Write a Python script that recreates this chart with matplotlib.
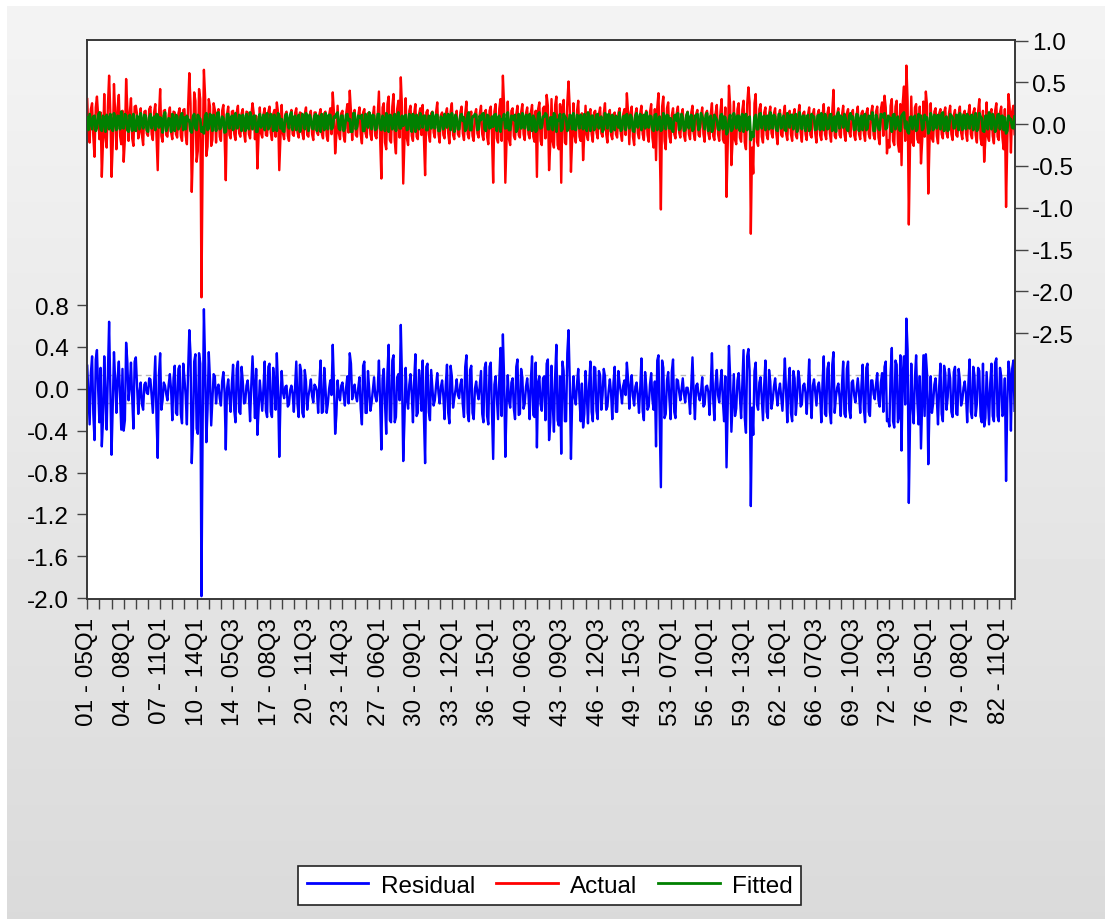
import numpy as np
import matplotlib
matplotlib.use("Agg")
import matplotlib.pyplot as plt
from matplotlib.lines import Line2D
from matplotlib.ticker import MultipleLocator, FixedLocator, FixedFormatter

plt.rcParams['font.family'] = ['Liberation Sans', 'DejaVu Sans']

# panel: 83 cross sections x 46 quarters (2005Q1-2016Q2), read every 5th obs
OBS_STEP = 5
N_OBS = 3818

# values in hundredths
ACTUAL_X100 = [
    30, -12, -22, 18, 25, -15, -39, 20, 33, 10, -18, 14, -63, -20, 36, -16, -28, 22, 58, 15, -63, -25, 48, 12, -30, 20, 35, -14, -24, 16, -45, -18, 54, 19, -20, 13, 31, -17, -26, 21,
    22, 12, -17, -9, 19, -13, -25, 15, 16, -11, -14, 18, 21, -12, -19, 14, 24, -16, -55, 10, 42, -14, -21, 16, 17, -13, -15, 11, 20, -10, -18, 15, 14, -12, -16, 13, 19, -14, -20, 17,
    18, -13, -24, 22, 61, 25, -81, -30, 38, 28, -45, -32, 42, 30, -207, -35, 65, 33, -38, -27, 30, 21, -26, -19, 25, 17, -22, 13, 18, -15, -20, 16, 23, -14, -67, 12, 21, -13, -17, 15,
    16, -12, -19, 14, 22, -11, -15, 13, 18, -10, -21, 15, 14, -12, -17, 11, 25, 13, -18, 10, -53, -14, 20, -11, -16, 12, 19, -13, -14, 15, 21, -10, -19, 12, 17, -15, 26, 14, -55, -16,
    23, -11, -18, 12, 15, -14, -20, 10, 17, -12, -14, 13, 19, -10, -16, 14, 13, -11, -18, 12, 20, -13, -15, 11, 16, -12, -19, 14, 14, -10, -13, 12, 18, -11, -17, 13, 15, -14, -20, 11,
    19, -12, 38, 14, -35, -13, 22, -11, -18, 13, 16, -14, -21, 12, 24, -10, 40, 15, -19, 12, 17, -13, -15, 11, 20, -12, -23, 14, 18, -11, -16, 13, 14, -12, -19, 10, 21, -14, -17, 12,
    39, -18, -65, 20, 25, -22, -30, 24, 33, -19, -22, 21, 36, -20, -35, 18, 28, -16, 56, 20, -71, -22, 31, -17, -25, 16, 22, -14, -20, 13, 24, -15, -18, 12, 19, -13, 23, -16, -61, 14,
    17, -12, -21, 13, 15, -10, -16, 14, 26, -12, -22, 11, 14, -13, -17, 12, 19, -11, -23, 15, 25, -13, -18, 10, 16, -12, -15, 14, 21, -11, -19, 13, 27, -12, -17, 11, 15, -14, -20, 12,
    18, -11, -16, 13, 22, -12, -19, 14, 17, -15, -24, 16, 21, -13, -70, 15, 24, -17, -22, 18, 30, -20, 58, 22, -70, -21, 27, -18, -25, 16, 19, -14, -18, 12, 22, -13, -16, 14, 24, -12,
    -19, 13, 20, -12, -17, 14, 23, -15, -21, 16, -63, 18, 26, -20, -25, 19, 21, -17, 35, 22, -55, -24, 30, -21, -28, 23, 33, -25, -30, 24, -70, 20, 29, -22, -24, 26, 51, 20, -57, -18,
    25, -14, -22, 16, 28, -15, -20, 13, -43, -12, 22, -13, -19, 11, 18, -12, -21, 14, 16, -10, -17, 12, 20, -11, -15, 13, 25, -12, -22, 10, 17, -13, -18, 11, 14, -12, -16, 13, 19, -11,
    -20, 12, 18, -13, 37, 14, -24, 13, 21, -15, -25, 12, 19, -11, -17, 13, 22, -12, -19, 11, 16, -13, -21, 14, 24, -16, -28, 18, -43, 20, 37, -22, -102, 21, 33, -20, -30, 19, 26, -15,
    -22, 11, 19, -12, -17, 13, 21, -10, -16, 12, 18, -13, -20, 11, 15, -12, -18, 14, 22, -11, -19, 12, 17, -13, -15, 10, 20, -12, -21, 13, 16, -11, -18, 12, 25, -14, -19, 13, 23, -12,
    -20, 15, 30, -18, -22, 20, -87, -25, 46, 22, -49, -20, 27, -19, -24, 18, 25, -16, -21, 17, 28, -22, -30, 24, 44, 26, -131, -28, -59, 25, 36, -21, -26, 18, 24, -15, -22, 14, 20, -13,
    -18, 12, 21, -11, -16, 13, 19, -12, -24, 10, 17, -13, -15, 12, 22, -11, -19, 13, 16, -12, -20, 11, 18, -13, -17, 12, 23, -10, -21, 13, 15, -12, -19, 11, 20, -13, -16, 12, 18, -11,
    -22, 12, 17, -13, -19, 11, 24, -12, -18, 13, 20, -11, -21, 15, 41, -14, -17, 12, 19, -13, -16, 11, 22, -12, -20, 13, 18, -10, -15, 12, 17, -13, -19, 11, 21, -12, -18, 13, 16, -11,
    -20, 13, 19, -12, -17, 14, 22, -13, -18, 15, 21, -16, -24, 18, 26, -14, 34, 20, -35, -19, -28, 22, 30, -20, -25, 21, 28, -23, -33, 24, -49, 26, 45, -20, 70, 28, -120, -25, 33, -22,
    -26, 20, 24, -18, -22, 21, -47, -20, 27, -15, 39, 22, -83, -24, 25, -17, -21, 15, 19, -14, -23, 13, 18, -12, -17, 14, 20, -11, -16, 13, 22, -12, -19, 11, 17, -13, -15, 12, 21, -10,
    -18, 12, 16, -11, -20, 13, 23, -12, -17, 14, 19, -13, -22, 15, 30, -17, -25, 16, -45, -18, 26, -15, -20, 13, 18, -14, -23, 16, 25, -15, -19, 14, 21, -16, -30, 18, -99, -22, 36, 20,
    -34, 15, 22, -12,
]

FITTED_X100 = [
    8, -7, 12, 3, -6, 9, 10, -8, -4, 11, 14, -6, -8, 10, 5, -9, 11, 7, -6, 12, 0, -8, 13, 4, -7, 10, 9, -6, 15, -3, -5, 12, 10, -7, -9, 11, 6, -8, 12, -5,
    -8, 10, 7, -6, 13, 2, -5, 11, 10, -7, -9, 8, 12, -5, 4, 9, -7, 12, 11, -4, 8, 6, -10, 10, 14, -8, -4, 7, 6, -9, 12, 5, -8, 11, 9, -6, -3, 10, 13, -7,
    8, -6, 10, 4, 5, -8, -10, 9, 12, -5, -7, 11, 8, 6, -9, -4, -11, 10, 13, -7, -5, 12, 9, -8, 11, 5, -8, 13, 14, -6, -4, 9, 7, -10, -9, 12, 12, -5, 5, 10,
    -7, 9, 13, -5, -4, 11, 9, -8, 11, 4, -8, 12, 6, -6, 14, 7, -6, 10, 10, -9, -9, 6, 12, -4, 5, 11, -7, 8, 13, -6, -3, 12, 8, -8, 11, 5, -8, 13, 10, -5,
    6, -8, -9, 10, 12, 3, -5, 11, 14, -7, 8, 10, -7, 5, 11, -9, -4, 12, 9, -6, 13, 7, -8, 11, 7, -5, -6, 10, 12, -8, 10, 6, -9, 12, 5, -7, 13, 9, -6, 11,
    11, -6, -4, 9, 8, 12, 14, -5, -7, 10, 10, -8, -5, 11, 12, 4, 6, -9, -9, 13, 13, -6, -3, 10, 9, 7, 11, -8, -8, 12, 7, -4, 14, 9, -6, 11, 10, -7, -5, 12,
    12, -5, -7, 10, 6, -8, 13, 9, -9, 11, 10, -6, 4, 12, -8, 7, 14, -5, -5, 10, -2, 9, 11, -7, -6, 12, 8, -9, 12, 5, -9, 11, 5, -6, 13, 8, -4, 10, 10, -7,
    -7, 10, 9, -5, 14, 6, -5, 11, 11, -8, -8, 9, 6, -6, 12, 8, -4, 12, 10, -7, 13, 5, -9, 11, 7, -6, -6, 10, 12, 4, 8, -8, -5, 11, 14, -7, -7, 9, 9, 12,
    11, -7, -6, 10, 5, 12, 13, -6, -8, 11, 10, -5, -4, 9, -3, 11, 12, -8, 7, 10, -9, 6, 6, 12, -5, -4, 14, -7, -7, 10, 9, 5, 11, -9, -6, 12, 8, -5, 13, 7,
    -5, 11, 10, -7, 12, 6, -8, 10, 6, -9, -7, 12, 14, -5, -4, 9, 9, 13, 11, -6, -6, 8, 8, -7, 13, 10, -9, 5, 5, 12, -8, -6, 12, 9, 7, -8, -5, 11, 10, -6,
    13, -6, -7, 11, 9, -5, 11, 8, -6, 12, 5, -8, 14, 6, -8, 10, 10, -7, -4, 11, 12, -5, 7, 9, -9, -6, 13, 8, -5, 12, 8, -9, 11, 5, -7, 10, 6, -4, 14, -8,
    -6, 9, 10, -7, 12, 5, -5, 11, 8, -8, -9, 10, 13, -4, 6, 12, -7, 9, 11, -5, 14, 7, -4, 10, 9, -6, -8, 11, 12, -7, 5, 9, -8, -6, 13, 8, -6, 11, 10, -5,
    7, -6, -9, 10, 11, 4, 13, -7, -5, 12, 8, -8, -7, 10, 14, -5, 6, 11, -8, -6, 10, 9, 12, -7, -4, 13, 9, 5, -6, 11, 13, -8, 7, 10, -9, -5, 11, 8, 5, -6,
    -7, 10, 12, -6, 9, 8, -12, -9, 5, 11, -8, -6, 13, 7, -5, 10, 10, -8, 7, 12, -9, 6, 12, -7, 6, 9, -19, -10, -15, 8, 11, -6, -6, 12, 13, -5, 8, 10, -7, 9,
    10, -6, 14, 8, -5, 11, 9, -7, -8, 12, 12, -5, 6, 10, -7, -8, 13, 9, -4, 11, 11, -6, 8, 12, -9, -5, 14, 7, -6, 10, 10, -8, 5, 11, -8, -6, 12, 9, 9, -7,
    -6, 10, 11, -7, 13, 5, -7, 12, 8, -6, -5, 11, 12, -8, 6, 9, -9, 11, 14, -5, 10, 7, -4, 12, 7, -6, -8, 10, 13, 6, 9, -7, -6, 12, 11, -8, 5, 10, -7, 8,
    12, -7, -5, 10, 9, 6, 14, -8, -8, 11, 6, -5, -7, 12, 11, 8, 13, -6, -4, 10, 8, 7, -9, 11, 12, -6, 5, 9, -6, -8, 10, 12, 14, -5, 3, -9, -11, 8, 9, -6,
    7, 10, -8, -6, 12, 9, 10, -7, -5, 11, 6, 8, -11, -7, 13, 6, -7, 11, 9, -5, 11, 10, -6, 12, 14, -8, 5, 9, -8, -6, 12, 10, 8, -5, -4, 11, 10, -7, 13, 6,
    -7, 11, 9, -6, 12, 8, -5, 10, 11, -7, 6, 13, -8, -5, 13, 9, 7, -8, -9, 10, 10, -6, 14, 7, -6, 12, 8, -9, -4, 11, 12, -6, 9, 10, -7, 8, -11, -8, 10, 6,
    6, -4, -5, 9,
]

RESID_SE = 0.135  # standard error band on the residual axis

X_LABELS = ['01 - 05Q1', '04 - 08Q1', '07 - 11Q1', '10 - 14Q1', '14 - 05Q3', '17 - 08Q3',
            '20 - 11Q3', '23 - 14Q3', '27 - 06Q1', '30 - 09Q1', '33 - 12Q1', '36 - 15Q1',
            '40 - 06Q3', '43 - 09Q3', '46 - 12Q3', '49 - 15Q3', '53 - 07Q1', '56 - 10Q1',
            '59 - 13Q1', '62 - 16Q1', '66 - 07Q3', '69 - 10Q3', '72 - 13Q3', '76 - 05Q1',
            '79 - 08Q1', '82 - 11Q1']
LABEL_EVERY = 150
MINOR_EVERY = 50

n = min(len(ACTUAL_X100), len(FITTED_X100))
actual = np.array(ACTUAL_X100[:n]) / 100
fitted = np.array(FITTED_X100[:n]) / 100
resid = actual - fitted
obs = np.arange(n) * OBS_STEP

FS = 17.5
fig = plt.figure(figsize=(11.05, 9.2), dpi=100, facecolor='white')

# gray gradient panel behind the chart
bg = fig.add_axes([7 / 1105, 0, 1 - 7 / 1105, 1 - 7 / 920], zorder=-10)
grad = np.linspace(0.955, 0.855, 256).reshape(-1, 1)
bg.imshow(grad, aspect='auto', cmap='gray', vmin=0, vmax=1, extent=[0, 1, 0, 1])
bg.set_axis_off()

ax = fig.add_axes([86.5 / 1105, 1 - 600 / 920, (1015.3 - 86.5) / 1105, (600 - 40.5) / 920])
ax.set_facecolor('white')
ax.axhline(RESID_SE, color='#b8b8b8', lw=1.0, ls=(0, (4, 3)), zorder=1)
ax.axhline(-RESID_SE, color='#b8b8b8', lw=1.0, ls=(0, (4, 3)), zorder=1)
ax.plot(obs, resid, color='#0000ff', lw=1.7, zorder=2)
ax.set_ylim(-2.007, 3.335)
left_ticks = np.round(np.arange(-2.0, 0.81, 0.4), 1)
ax.set_yticks(left_ticks)
ax.set_yticklabels([f'{v + 0.0:.1f}' for v in left_ticks])

ax2 = ax.twinx()
ax2.plot(obs, actual, color='#ff0000', lw=1.7, zorder=2)
ax2.plot(obs, fitted, color='#008000', lw=2.0, zorder=3)
ax2.set_ylim(-5.676, 1.012)
right_ticks = np.round(np.arange(-2.5, 1.01, 0.5), 1)
ax2.set_yticks(right_ticks)
ax2.set_yticklabels([f'{v + 0.0:.1f}' for v in right_ticks])

ax.set_xlim(-3, N_OBS)
ax.xaxis.set_major_locator(FixedLocator(np.arange(len(X_LABELS)) * LABEL_EVERY))
ax.xaxis.set_major_formatter(FixedFormatter(X_LABELS))
ax.xaxis.set_minor_locator(MultipleLocator(MINOR_EVERY))

for a in (ax, ax2):
    for s in a.spines.values():
        s.set_color('#333333')
        s.set_linewidth(1.1)
ax.tick_params(axis='x', which='both', direction='out', length=7, width=1.0,
               color='#444444', labelsize=FS, pad=6, labelrotation=90)
ax.tick_params(axis='y', direction='out', length=7.5, width=1.0, color='#444444',
               labelsize=FS, pad=5)
ax2.tick_params(axis='y', direction='out', length=9, width=1.0, color='#444444',
                labelsize=FS, pad=3)

handles = [Line2D([], [], color='#0000ff', lw=2),
           Line2D([], [], color='#ff0000', lw=2),
           Line2D([], [], color='#008000', lw=2)]
leg = fig.legend(handles, ['Residual', 'Actual', 'Fitted'], loc='center',
                 bbox_to_anchor=(549.5 / 1105, 1 - 886.5 / 920), ncol=3,
                 fontsize=FS, frameon=True, fancybox=False, framealpha=1,
                 edgecolor='#222222', handlelength=2.55, handletextpad=0.5,
                 columnspacing=0.85, borderpad=0.35)
leg.get_frame().set_linewidth(1.2)

fig.savefig('out.png', dpi=100, facecolor=fig.get_facecolor())
